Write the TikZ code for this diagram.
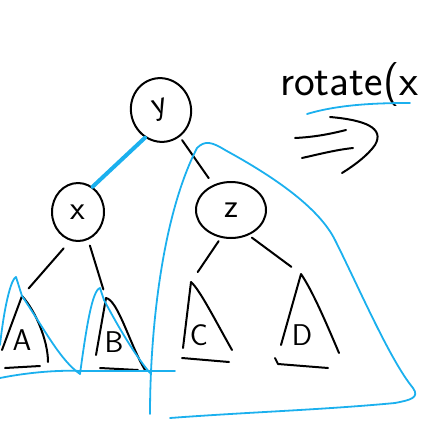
\documentclass[tikz,border=0pt]{standalone}
\usepackage{tikz}
\usetikzlibrary{shapes.geometric}
\definecolor{pen}{RGB}{27,176,238}

\tikzset{
  ink/.style={line width=2pt,line cap=round,line join=round},
  knot/.style={ellipse,draw,ink,inner sep=0pt,font=\sffamily\fontsize{34}{34}\selectfont},
  lbl/.style={font=\sffamily\fontsize{30}{30}\selectfont},
  hi/.style={pen,line width=1.8pt,line cap=round,line join=round}
}

\begin{document}
\begin{tikzpicture}[x=1pt,y=-1pt]
        \useasboundingbox (0,0) rectangle (425,423);
        \clip (0,0) rectangle (425,423);
        % tree nodes
        \node[knot,minimum width=60,minimum height=64,rotate=15] (ny) at (161,110) {y};
        \node[knot,minimum width=52,minimum height=58] (nx) at (78,212) {x};
        \node[knot,minimum width=70,minimum height=56] (nz) at (231,210) {z};
        % subtree tips
        \coordinate (ta) at (22,296);
        \coordinate (tb) at (106,298);
        \coordinate (tc) at (191,282);
        \coordinate (td) at (301,274);
        % edges
        \draw[ink,shorten <=4pt,shorten >=8pt] (ny) -- (nz);
        \draw[ink,shorten <=10pt,shorten >=10pt] (nx.255) -- (ta);
        \draw[ink,shorten <=6pt,shorten >=9pt] (nx.290) -- (tb);
        \draw[ink,shorten <=4pt,shorten >=12pt] (nz.250) -- (tc);
        \draw[ink,shorten <=4pt,shorten >=12pt] (nz.305) -- (td);
        % subtrees
        \draw[ink] (2,350) -- (ta) .. controls (35,310) and (48,340) .. (48,362);
        \draw[ink] (5,368) -- (40,366);
        \node[lbl] (la) at (22,340) {A};
        \draw[ink] (96,355) -- (tb) .. controls (118,300) and (130,345) .. (145,370);
        \draw[ink] (100,368) -- (138,370);
        \node[lbl] (lb) at (114,342) {B};
        \draw[ink] (183,348) -- (tc) .. controls (200,290) and (215,320) .. (232,350);
        \draw[ink] (182,358) -- (229,362);
        \node[lbl] (lc) at (199,335) {C};
        \draw[ink] (281,345) -- (td) .. controls (312,290) and (325,320) .. (339,353);
        \draw[ink] (275,358) -- (278,364) -- (328,368);
        \node[lbl] (ld) at (302,335) {D};
        % highlighted parts
        \draw[hi,line width=4pt] (ny.225) -- (nx.60);
        \draw[hi] (0,345) .. controls (5,300) and (12,278) .. (16,277) -- (22,296)
          .. controls (45,330) and (60,360) .. (80,374);
        \draw[hi] (80,374) .. controls (86,330) and (92,290) .. (100,288) -- (104,300)
          .. controls (120,330) and (135,355) .. (150,373);
        \draw[hi] (0,378) .. controls (30,372) and (60,370) .. (80,371) -- (175,371);
        \draw[hi] (150,414) .. controls (150,340) and (160,220) .. (197,148)
          .. controls (205,140) and (212,142) .. (225,150)
          .. controls (280,180) and (320,210) .. (335,240)
          .. controls (360,290) and (390,360) .. (413,388)
          .. controls (420,398) and (410,400) .. (395,403)
          .. controls (320,410) and (250,412) .. (170,418);
        % rotation note
        \node[font=\sffamily\fontsize{44}{44}\selectfont,inner sep=0pt,anchor=base west] (note) at (280,95) {rotate(x};
        \draw[hi] (307,114) .. controls (340,104) and (380,103) .. (410,103);
        \draw[ink] (295,138) .. controls (315,137) and (330,134) .. (346,130);
        \draw[ink] (302,158) .. controls (320,154) and (335,150) .. (353,148);
        \draw[ink] (330,117) .. controls (365,120) and (385,128) .. (375,145)
          .. controls (368,155) and (355,165) .. (342,173);
\end{tikzpicture}
\end{document}
